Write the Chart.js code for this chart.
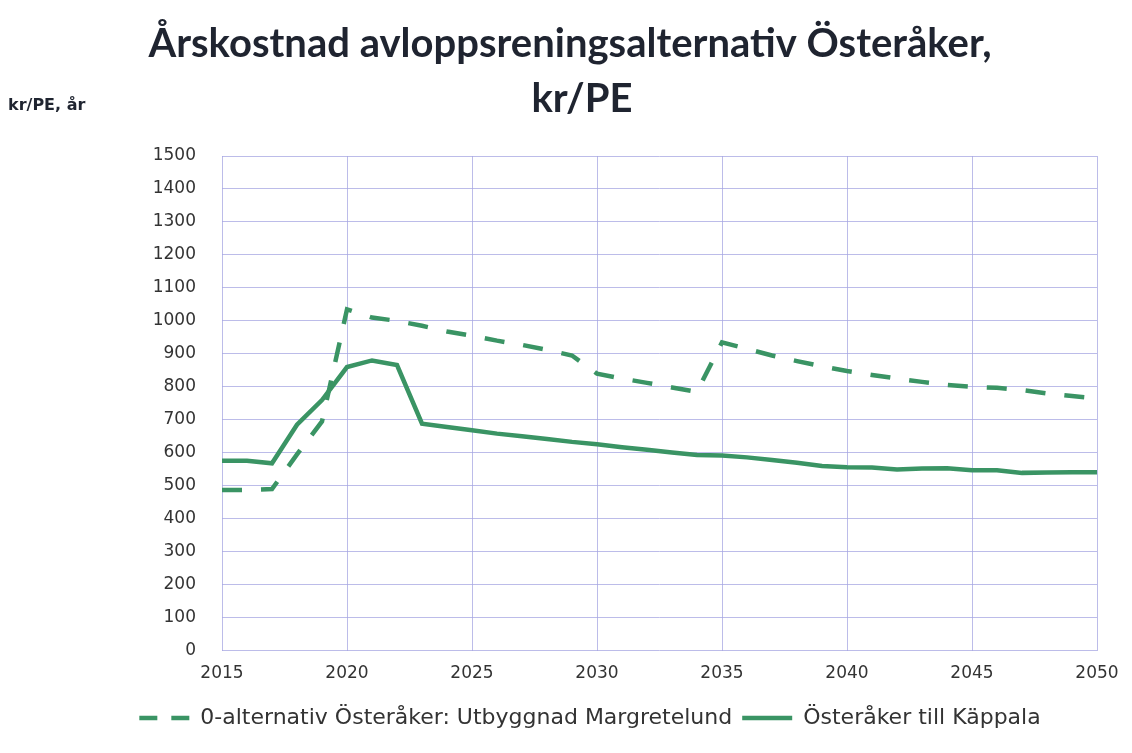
<!DOCTYPE html>
<html>
<head>
  <title>Årskostnad avloppsreningsalternativ Österåker</title>
  <script src="https://cdn.jsdelivr.net/npm/chart.js"></script>
  <style>
    body { margin: 0; background: #fff; }
    #wrap { width: 1132px; height: 753px; }
  </style>
</head>
<body>
  <div id="wrap"><canvas id="costChart"></canvas></div>

  <script>
    // yearly values
    const years = [2015, 2016, 2017, 2018, 2019, 2020, 2021, 2022, 2023, 2024, 2025, 2026,
      2027, 2028, 2029, 2030, 2031, 2032, 2033, 2034, 2035, 2036, 2037, 2038, 2039, 2040,
      2041, 2042, 2043, 2044, 2045, 2046, 2047, 2048, 2049, 2050];
    const margretelund = [487, 487, 490, 595, 695, 1035, 1010, 1000, 985, 968, 955, 940,
      927, 912, 895, 840, 825, 812, 798, 785, 935, 915, 895, 878, 862, 848,
      836, 825, 815, 806, 800, 797, 790, 780, 772, 765];
    const kappala = [576, 576, 568, 685, 760, 860, 880, 866, 688, 678, 668, 658,
      650, 642, 633, 626, 617, 609, 601, 593, 592, 586, 578, 570, 560, 556,
      555, 549, 552, 553, 547, 547, 539, 540, 541, 541];
    const seriesNames = ['0-alternativ Österåker: Utbyggnad Margretelund', 'Österåker till Käppala'];
    const titleLines = ['Årskostnad avloppsreningsalternativ Österåker,', 'kr/PE'];
    const unitLabel = 'kr/PE, år';

    const green = '#3a9464';
    const gridColor = 'rgba(165, 165, 225, 0.75)';
    const textColor = '#333';

    const toPoints = vals => vals.map((v, i) => ({ x: years[i], y: v }));

    // title and unit label are placed like in the scan (title a bit left of the legend centre)
    const headerPlugin = {
      id: 'header',
      afterDraw(chart) {
        const ctx = chart.ctx;
        ctx.save();
        ctx.fillStyle = '#1f2430';
        ctx.textBaseline = 'middle';
        ctx.textAlign = 'center';
        ctx.font = 'bold 40px Lato';
        ctx.fillText(titleLines[0], 570, 44);
        ctx.fillText(titleLines[1], 582, 99);
        ctx.textAlign = 'left';
        ctx.font = 'bold 16px "DejaVu Sans"';
        ctx.fillText(unitLabel, 8, 106);
        ctx.restore();
      }
    };

    new Chart(document.getElementById('costChart'), {
      type: 'line',
      data: {
        datasets: [{
          label: seriesNames[0],
          data: toPoints(margretelund),
          borderColor: green,
          backgroundColor: green,
          borderWidth: 4.5,
          borderDash: [20, 19],
          pointRadius: 0,
          tension: 0
        }, {
          label: seriesNames[1],
          data: toPoints(kappala),
          borderColor: green,
          backgroundColor: green,
          borderWidth: 4.5,
          pointRadius: 0,
          tension: 0
        }]
      },
      options: {
        responsive: true,
        maintainAspectRatio: false,
        animation: false,
        layout: { padding: { left: 83, right: 35, top: 156, bottom: 14 } },
        plugins: {
          title: { display: false },
          legend: {
            position: 'bottom',
            labels: {
              usePointStyle: true,
              pointStyle: 'line',
              pointStyleWidth: 50,
              color: textColor,
              font: { family: 'DejaVu Sans', size: 22 },
              padding: 10,
              generateLabels(chart) {
                const items = Chart.defaults.plugins.legend.labels.generateLabels(chart);
                items.forEach((item, i) => {
                  item.lineDash = chart.data.datasets[i].borderDash ? [18, 14] : [];
                });
                return items;
              }
            }
          },
          tooltip: { enabled: false }
        },
        scales: {
          x: {
            type: 'linear',
            min: 2015,
            max: 2050,
            ticks: {
              stepSize: 5,
              color: textColor,
              font: { family: 'DejaVu Sans', size: 17 },
              padding: 13,
              callback: v => String(v)
            },
            grid: { color: gridColor, drawTicks: false },
            border: { display: false }
          },
          y: {
            min: 0,
            max: 1500,
            afterFit: scale => { scale.width = 139; },
            ticks: {
              stepSize: 100,
              color: textColor,
              font: { family: 'DejaVu Sans', size: 17 },
              padding: 26,
              callback: v => String(v)
            },
            grid: { color: gridColor, drawTicks: false },
            border: { display: false }
          }
        }
      },
      plugins: [headerPlugin]
    });
  </script>
</body>
</html>
